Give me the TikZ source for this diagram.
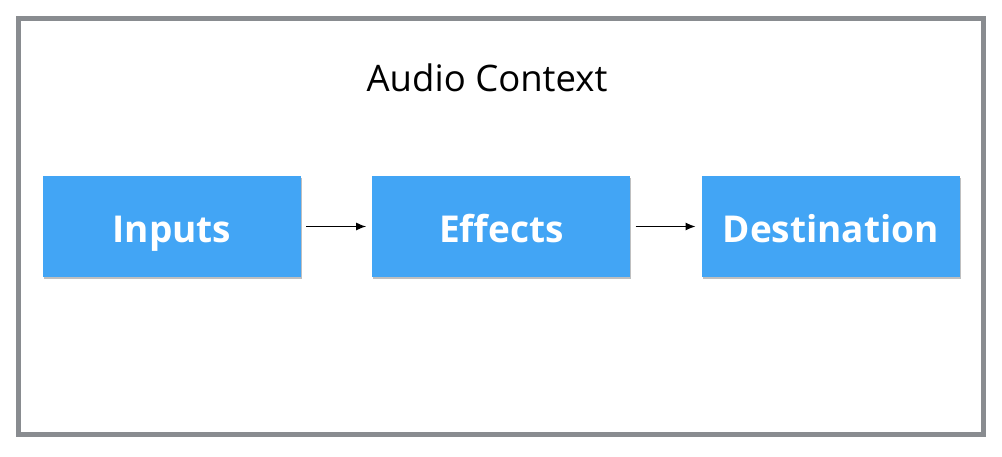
\documentclass[tikz,border=0pt]{standalone}
\usepackage{fontspec}
\setmainfont{Open Sans}
\usetikzlibrary{positioning,shadows,arrows.meta}
\definecolor{boxblue}{HTML}{42A5F5}
\definecolor{framegray}{HTML}{898C90}

\begin{document}
\begin{tikzpicture}[x=1pt,y=1pt,
    block/.style={fill=boxblue,text=white,font=\fontsize{37}{42}\selectfont\bfseries,
      minimum width=258pt,minimum height=101pt,inner sep=0pt,text height=32pt,text depth=0pt,
      drop shadow={shadow xshift=0.8pt,shadow yshift=-2.2pt,opacity=0.5}},
    link/.style={-{Latex[length=10pt,width=8pt]},line width=1.4pt,shorten <=5pt,shorten >=6pt}]
    \useasboundingbox (0,0) rectangle (1002,457);
    \draw[framegray,line width=5pt] (18.5,438.5) rectangle (983.5,22);
    \node[anchor=base,font=\fontsize{36.5}{42}\selectfont] (title) at (487,365) {Audio Context};

    \node[block] (inputs) at (172,230.5) {Inputs};
    \node[block,right=71pt of inputs] (effects) {Effects};
    \node[block,right=71pt of effects] (dest) {Destination};

    \draw[link] (inputs) -- (effects);
    \draw[link] (effects) -- (dest);
  \end{tikzpicture}
\end{document}
